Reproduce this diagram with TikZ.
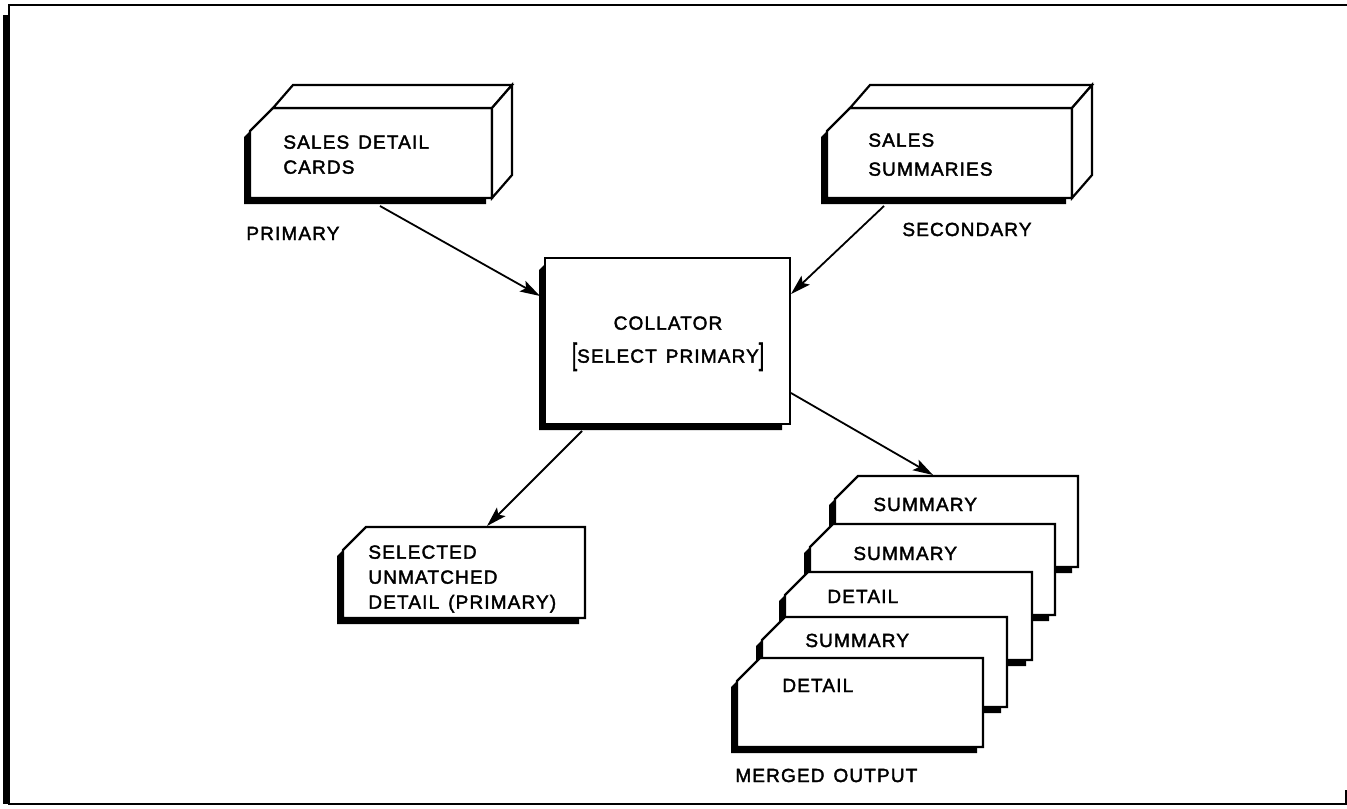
\documentclass[tikz,border=0pt]{standalone}
\usepackage{fontspec}
\usepackage{graphicx}
\usetikzlibrary{arrows.meta}
\newfontfamily\lettering[LetterSpace=6,WordSpace=1.4,FakeBold=2]{Liberation Sans}

% card outline with a chamfered top-left corner and a heavy drop shadow
% #1 = left, #2 = top, #3 = right, #4 = bottom
\newcommand{\cardface}[4]{%
  \fill[black] (#1,#2+23) -- (#1-6,#2+29) -- (#1-6,#4+6) -- (#3-6,#4+6) -- (#3-6,#4) -- (#1,#4) -- cycle;
  \filldraw[edge,fill=white] (#1,#2+23) -- (#1+23,#2) -- (#3,#2) -- (#3,#4) -- (#1,#4) -- cycle;
}
% deck of cards drawn as a solid block
\newcommand{\cardbox}[4]{%
  \cardface{#1}{#2}{#3}{#4}
  \filldraw[edge,fill=white] (#1+23,#2) -- (#1+43,#2-23) -- (#3+20,#2-23) -- (#3,#2) -- cycle;
  \filldraw[edge,fill=white] (#3,#2) -- (#3+20,#2-23) -- (#3+20,#4-23) -- (#3,#4) -- cycle;
}

\tikzset{
  edge/.style={line width=1.1pt, line join=miter},
  txt/.style={font=\lettering\fontsize{9.5}{12.5}\selectfont, inner sep=0pt, align=left, anchor=north west},
  lbl/.style={font=\lettering\fontsize{9.5}{12.5}\selectfont, inner sep=0pt, anchor=base west},
  flow/.style={line width=0.9pt, -{Stealth[length=10pt,width=6pt,inset=2pt]}},
}

\begin{document}
\begin{tikzpicture}[x=0.5pt, y=-0.5pt]
\useasboundingbox (0,0) rectangle (1347,808);

% outer frame (right side runs off the sheet)
\fill[black] (3,15) rectangle (9,804);
\draw[line width=1.2pt] (1347,5) -- (9,5) -- (9,804) -- (1347,804);
\draw[line width=1.2pt] (1346,790) -- (1346,804);

% input decks
\cardbox{250}{108}{492}{198}
\node[txt] (detailtxt) at (283,135) {SALES DETAIL\\CARDS};
\node[lbl] (primary) at (246,240) {PRIMARY};

\cardbox{827}{108}{1072}{198}
\node[txt] (summtxt) at (868,133) {SALES\\[2pt]SUMMARIES};
\node[lbl] (secondary) at (902,236) {SECONDARY};

% collator
\fill[black] (545,264) -- (539,270) -- (539,430) -- (782,430) -- (782,424) -- (545,424) -- cycle;
\draw[edge, fill=white] (545,258) rectangle (790,424);
\node[font=\lettering\fontsize{9.5}{12.5}\selectfont, inner sep=0pt, align=center, anchor=north] (collator) at (668,316)
  {COLLATOR\\[4pt]\raisebox{-1pt}{\scalebox{1}[1.6]{[}}SELECT PRIMARY\raisebox{-1pt}{\scalebox{1}[1.6]{]}}};

% unmatched primaries
\cardface{343}{527}{585}{618}
\node[txt] (unmatched) at (368,545) {SELECTED\\UNMATCHED\\DETAIL (PRIMARY)};

% merged output stack, back to front
\cardface{835}{476}{1078}{567}
\node[lbl] (m1) at (873,511) {SUMMARY};
\cardface{810}{524}{1055}{615}
\node[lbl] (m2) at (853,560) {SUMMARY};
\cardface{785}{572}{1032}{660}
\node[lbl] (m3) at (827,603) {DETAIL};
\cardface{762}{617}{1007}{707}
\node[lbl] (m4) at (805,647) {SUMMARY};
\cardface{737}{658}{983}{747}
\node[lbl] (m5) at (782,692) {DETAIL};
\node[lbl] (merged) at (735,782) {MERGED OUTPUT};

% connector end points
\coordinate (detailout) at (380,206);
\coordinate (summout) at (884,206);
\coordinate (colin1) at (540,296);
\coordinate (colin2) at (791,294);
\coordinate (colout1) at (582,431);
\coordinate (colout2) at (791,393);
\coordinate (unmatchedin) at (487,526);
\coordinate (mergedin) at (933,475);

\draw[flow] (detailout) -- (colin1);
\draw[flow] (summout) -- (colin2);
\draw[flow] (colout1) -- (unmatchedin);
\draw[flow] (colout2) -- (mergedin);
\end{tikzpicture}
\end{document}
